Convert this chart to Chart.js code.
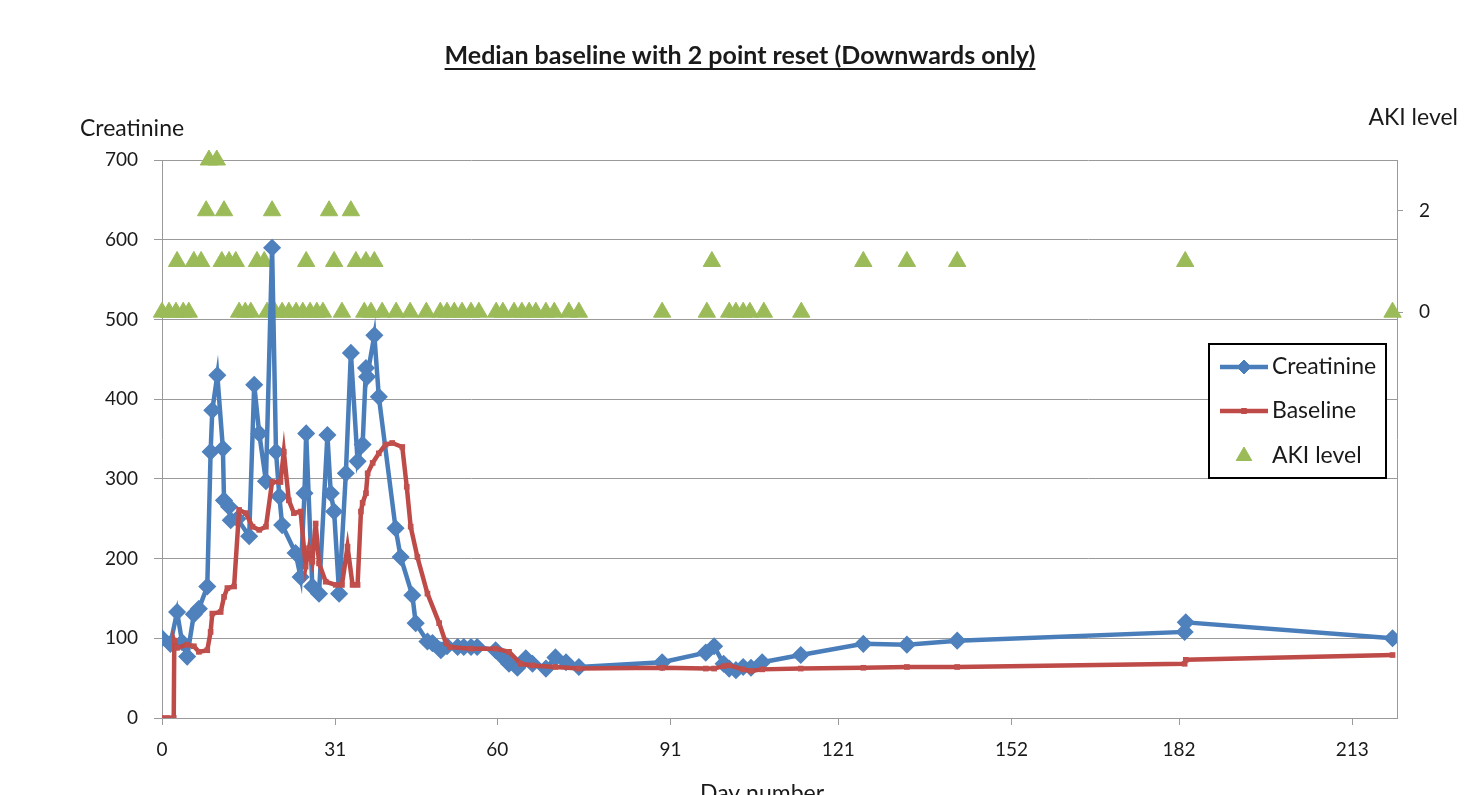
<!DOCTYPE html>
<html>
<head>
<meta charset="utf-8">
<title>Median baseline with 2 point reset</title>
<script src="https://cdn.jsdelivr.net/npm/chart.js@4.4.1/dist/chart.umd.min.js"></script>
<style>
  html, body { margin: 0; padding: 0; background: #fff; }
  #wrap { width: 1464px; height: 795px; }
</style>
</head>
<body>
<div id="wrap"><canvas id="chart" width="1464" height="795"></canvas></div>
<script>
// Creatinine measurements (day number, value)
const creatDays = [0, 1.5, 2.7, 3.6, 4.5, 5.7, 6.6, 8.1, 8.7, 9.0, 9.9, 10.9, 11.1, 12.0, 12.3, 13.5, 15.6,
  16.5, 17.4, 18.6, 19.7, 20.4, 21.0, 21.5, 23.9, 24.8, 25.5, 25.8, 26.9, 28.1, 29.6, 30.2, 30.8,
  31.7, 32.9, 33.8, 35.0, 35.9, 36.5, 36.7, 38.0, 38.8, 41.8, 42.7, 44.8, 45.4, 47.5, 48.4, 49.9,
  51.0, 52.9, 54.0, 55.3, 56.4, 59.7, 60.9, 62.1, 63.6, 65.1, 66.3, 68.7, 70.4, 72.3, 74.6,
  89.5, 97.3, 98.8, 100.5, 101.5, 102.7, 104.0, 105.4, 107.4, 114.3, 125.5, 133.3, 142.3,
  183.0, 183.2, 220.2];
const creatValues = [100, 93, 133, 95, 77, 130, 137, 165, 334, 386, 430, 338, 273, 265, 248, 250, 228,
  418, 357, 297, 590, 334, 278, 242, 207, 177, 282, 357, 165, 156, 355, 282, 259,
  156, 307, 458, 322, 343, 439, 428, 480, 403, 238, 202, 154, 119, 96, 94, 85,
  90, 89, 89, 89, 89, 85, 77, 68, 63, 75, 68, 62, 76, 70, 64,
  70, 82, 90, 68, 62, 60, 64, 63, 70, 79, 93, 92, 97,
  108, 120, 100];

// Baseline (day number, value)
const baseDays = [0, 1.0, 2.1, 2.2, 2.7, 4.5, 5.7, 6.6, 8.1, 8.7, 9.0, 10.5, 11.1, 11.7, 12.9, 13.8,
  15.0, 16.2, 17.4, 18.6, 19.7, 21.2, 21.8, 22.7, 23.6, 24.8, 25.7, 26.3, 26.9, 27.5, 28.1, 29.3,
  31.1, 32.2, 33.2, 34.1, 35.0, 35.6, 35.9, 36.5, 36.8, 37.7, 38.8, 40.0, 41.2, 43.0, 43.8, 44.5,
  45.7, 47.5, 49.6, 50.8, 51.5, 55.3, 59.7, 62.1, 64.2, 66.3, 70.4, 74.6,
  89.5, 97.3, 98.8, 100.5, 101.5, 104.0, 105.4, 107.4, 114.3, 125.5, 133.3, 142.3,
  183.0, 183.2, 220.2];
const baseValues = [0, 0, 0, 97, 88, 92, 90, 83, 85, 108, 131, 133, 152, 163, 165, 261,
  257, 240, 236, 240, 296, 296, 334, 273, 257, 259, 190, 213, 196, 244, 194, 171,
  167, 167, 215, 167, 167, 259, 270, 282, 307, 320, 332, 343, 345, 340, 290, 240,
  202, 156, 119, 94, 89, 87, 87, 83, 68, 66, 64, 62,
  63, 62, 62, 65, 66, 61, 59, 61, 62, 63, 64, 64,
  68, 73, 79];

// AKI level (day number, level) on the secondary axis
const akiDays = [0, 1.25, 2.5, 3.8, 4.8, 13.8, 14.9, 15.9, 18.8, 20.2, 21.5, 22.7, 24.0, 25.2, 26.5,
  27.7, 28.8, 32.2, 36.2, 37.4, 39.4, 41.9, 44.4, 47.3, 49.8, 51.0, 52.3, 53.7, 55.3, 56.7,
  59.8, 61.0, 63.0, 64.4, 65.7, 66.9, 68.7, 70.2, 72.8, 74.6, 89.5, 97.5, 101.5, 102.7, 104.0,
  105.2, 107.7, 114.4, 220.2,
  2.7, 5.7, 7.0, 10.7, 12.0, 13.2, 17.0, 18.3, 25.8, 30.8, 34.7, 36.5, 38.0, 98.4, 125.5, 133.3,
  142.3, 183.1,
  7.9, 11.1, 19.7, 29.9, 33.8,
  8.4, 9.8];
const akiLevels = [0, 0, 0, 0, 0, 0, 0, 0, 0, 0, 0, 0, 0, 0, 0,
  0, 0, 0, 0, 0, 0, 0, 0, 0, 0, 0, 0, 0, 0, 0,
  0, 0, 0, 0, 0, 0, 0, 0, 0, 0, 0, 0, 0, 0, 0,
  0, 0, 0, 0,
  1, 1, 1, 1, 1, 1, 1, 1, 1, 1, 1, 1, 1, 1, 1, 1,
  1, 1,
  2, 2, 2, 2, 2,
  3, 3];

// Axis ticks
const dayTicks = [0, 31, 60, 91, 121, 152, 182, 213];
const akiTicks = [0, 2];

const BLUE = '#4A7EBB';
const RED = '#BE4B48';
const GREEN = '#9BBB59';
const TEXT = '#1a1a1a';
const GRID = '#9a9a9a';
const FONT = 'Lato, "Open Sans", sans-serif';

function toPoints(xs, ys) {
  return xs.map((x, i) => ({ x: x, y: ys[i] }));
}

// Title, axis titles and boxed legend, drawn the Excel way
const decorPlugin = {
  id: 'decor',
  afterDraw(chart) {
    const ctx = chart.ctx;
    const a = chart.chartArea;
    ctx.save();
    ctx.fillStyle = TEXT;

    // title, bold and underlined
    const title = 'Median baseline with 2 point reset (Downwards only)';
    ctx.font = 'bold 25px ' + FONT;
    ctx.textAlign = 'center';
    ctx.textBaseline = 'alphabetic';
    const tx = 740, ty = 64;
    ctx.fillText(title, tx, ty);
    const tw = ctx.measureText(title).width;
    ctx.fillRect(tx - tw / 2, ty + 4, tw, 2);

    // axis titles
    ctx.font = '23px ' + FONT;
    ctx.textBaseline = 'middle';
    ctx.textAlign = 'left';
    ctx.fillText('Creatinine', a.left - 82, a.top - 31);
    ctx.textAlign = 'right';
    ctx.fillText('AKI level', a.right + 61, a.top - 42);
    ctx.textAlign = 'center';
    ctx.fillText('Day number', a.left + 600, a.bottom + 76);

    // legend box
    const bx = a.right - 188, by = a.top + 184, bw = 177, bh = 134;
    ctx.fillStyle = '#fff';
    ctx.fillRect(bx, by, bw, bh);
    ctx.strokeStyle = '#000';
    ctx.lineWidth = 2;
    ctx.strokeRect(bx, by, bw, bh);

    const rows = [
      { label: 'Creatinine', y: by + 23, color: BLUE, line: true, style: 'rectRot', r: 7 },
      { label: 'Baseline', y: by + 67, color: RED, line: true, style: 'rect', r: 3.5 },
      { label: 'AKI level', y: by + 112, color: GREEN, line: false, style: 'triangle', r: 9 }
    ];
    rows.forEach(row => {
      const cx = bx + 35;
      if (row.line) {
        ctx.strokeStyle = row.color;
        ctx.lineWidth = 4.5;
        ctx.beginPath();
        ctx.moveTo(bx + 11, row.y);
        ctx.lineTo(bx + 59, row.y);
        ctx.stroke();
      }
      ctx.fillStyle = row.color;
      ctx.strokeStyle = row.color;
      ctx.lineWidth = 1;
      Chart.helpers.drawPoint(ctx, { pointStyle: row.style, radius: row.r, borderWidth: 1, rotation: 0 }, cx, row.y);
      ctx.fillStyle = TEXT;
      ctx.font = '23px ' + FONT;
      ctx.textAlign = 'left';
      ctx.textBaseline = 'middle';
      ctx.fillText(row.label, bx + 63, row.y);
    });
    ctx.restore();
  }
};

function initializeChart() {
  const ctx = document.getElementById('chart').getContext('2d');
  new Chart(ctx, {
    type: 'line',
    data: {
      datasets: [{
        label: 'Creatinine',
        data: toPoints(creatDays, creatValues),
        borderColor: BLUE,
        backgroundColor: '#4F81BD',
        borderWidth: 4.5,
        pointStyle: 'rectRot',
        pointRadius: 8,
        pointBorderWidth: 1.5,
        pointBorderColor: '#4F81BD',
        tension: 0,
        yAxisID: 'y',
        order: 1
      }, {
        label: 'Baseline',
        data: toPoints(baseDays, baseValues),
        borderColor: RED,
        backgroundColor: '#C0504D',
        borderWidth: 4.5,
        pointStyle: 'rect',
        pointRadius: 4,
        pointBorderWidth: 0,
        tension: 0,
        yAxisID: 'y',
        order: 0
      }, {
        label: 'AKI level',
        data: toPoints(akiDays, akiLevels),
        showLine: false,
        clip: false,
        borderColor: GREEN,
        backgroundColor: GREEN,
        pointStyle: 'triangle',
        pointRadius: 10,
        pointBorderWidth: 1,
        yAxisID: 'y2',
        order: 2
      }]
    },
    options: {
      responsive: false,
      animation: false,
      layout: { padding: { top: 160, left: 0, right: 0, bottom: 0 } },
      plugins: {
        legend: { display: false },
        title: { display: false },
        tooltip: { enabled: false }
      },
      scales: {
        x: {
          type: 'linear',
          min: 0,
          max: 221,
          afterBuildTicks: scale => { scale.ticks = dayTicks.map(v => ({ value: v })); },
          afterFit: scale => { scale.height = 77; },
          grid: { drawOnChartArea: false, tickLength: 7, color: GRID },
          border: { color: GRID, width: 1 },
          ticks: { color: TEXT, font: { family: FONT, size: 19 }, padding: 13, maxRotation: 0, autoSkip: false }
        },
        y: {
          min: 0,
          max: 700,
          afterFit: scale => { scale.width = 162; },
          grid: { color: GRID, tickLength: 8, lineWidth: 1 },
          border: { color: GRID, width: 1 },
          ticks: { stepSize: 100, color: TEXT, font: { family: FONT, size: 19 }, padding: 16 }
        },
        y2: {
          position: 'right',
          min: -8,
          max: 3,
          afterBuildTicks: scale => { scale.ticks = akiTicks.map(v => ({ value: v })); },
          afterFit: scale => { scale.width = 67; },
          grid: { drawOnChartArea: false, tickLength: 6, color: GRID },
          border: { color: GRID, width: 1 },
          ticks: { color: TEXT, font: { family: FONT, size: 19 }, padding: 16 }
        }
      }
    },
    plugins: [decorPlugin]
  });
}

if (document.readyState === 'loading') {
  document.addEventListener('DOMContentLoaded', initializeChart);
} else {
  initializeChart();
}
</script>
</body>
</html>
